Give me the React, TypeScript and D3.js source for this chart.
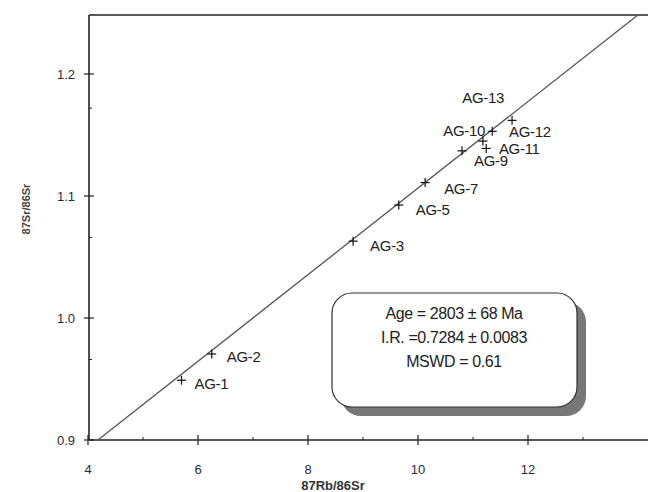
import * as d3 from "d3";

// sample names, measured ratios
const samples = ["AG-1", "AG-2", "AG-3", "AG-5", "AG-7", "AG-9", "AG-11", "AG-10", "AG-13", "AG-12"];
const rbSr = [5.7, 6.25, 8.82, 9.65, 10.13, 10.8, 11.18, 11.35, 11.24, 11.71];
const srSr = [0.949, 0.9705, 1.063, 1.0926, 1.111, 1.137, 1.145, 1.153, 1.139, 1.162];

// isochron fit as drawn
const slope = 0.03548;
const intercept = 0.7517;

const xTicks = [4, 6, 8, 10, 12];
const xMinor = [5, 7, 9, 11, 13];
const yTicks = [0.9, 1.0, 1.1, 1.2];
const yMinor = [0.966, 1.066, 1.172];

const resultLines = ["Age = 2803 ± 68 Ma", "I.R. =0.7284 ± 0.0083", "MSWD = 0.61"];

// label placement relative to each cross (px)
const labelOffsets: [number, number][] = [
  [13, 9], [15, 8], [17, 10], [17, 10], [19, 11],
  [12, 15], [16, 13], [-49, 5], [-24, -45], [-3, 17],
];

const W = 648;
const H = 492;
const left = 89;
const top = 15;
const bottom = 440;

export default function App() {
  const x = d3.scaleLinear().domain([4, 12]).range([88, 528]);
  const y = d3.scaleLinear().domain([0.9, 1.2]).range([bottom, 74]);

  const yTop = y.invert(top);
  const x0 = (0.9 - intercept) / slope;
  const x1 = (yTop - intercept) / slope;
  const line = d3.line<number>()
    .x((d) => x(d))
    .y((d) => y(intercept + slope * d));

  const font = "Liberation Sans, Arial, sans-serif";

  return (
    <svg
      width={W}
      height={H}
      style={{ position: "absolute", left: 0, top: 0, background: "#fff" }}
      fontFamily={font}
    >
      {/* frame */}
      <line x1={left} y1={top} x2={W} y2={top} stroke="#222" strokeWidth={1.6} />
      <line x1={left} y1={top} x2={left} y2={bottom} stroke="#222" strokeWidth={1.6} />
      <line x1={left} y1={bottom} x2={W} y2={bottom} stroke="#222" strokeWidth={1.6} />

      {/* ticks */}
      {xTicks.map((t) => (
        <g key={"xt" + t}>
          <line x1={x(t)} x2={x(t)} y1={bottom - 5} y2={bottom + 5} stroke="#222" strokeWidth={1.2} />
          <text x={x(t)} y={bottom + 34} textAnchor="middle" fontSize={13} fill="#2a2a3a">
            {t}
          </text>
        </g>
      ))}
      {xMinor.map((t) => (
        <line key={"xm" + t} x1={x(t)} x2={x(t)} y1={bottom - 3} y2={bottom} stroke="#222" strokeWidth={1} />
      ))}
      {yTicks.map((t) => (
        <g key={"yt" + t}>
          <line x1={left - 5} x2={left + 5} y1={y(t)} y2={y(t)} stroke="#222" strokeWidth={1.2} />
          <text x={left - 14} y={y(t) + 4.5} textAnchor="end" fontSize={13} fill="#2a2a3a">
            {t.toFixed(1)}
          </text>
        </g>
      ))}
      {yMinor.map((t) => (
        <line key={"ym" + t} x1={left} x2={left + 3} y1={y(t)} y2={y(t)} stroke="#222" strokeWidth={1} />
      ))}

      {/* axis titles */}
      <text x={333} y={490} textAnchor="middle" fontSize={13} fill="#333" fontWeight="bold">
        87Rb/86Sr
      </text>
      <text
        transform={`translate(30,209) rotate(-90)`}
        textAnchor="middle"
        fontSize={11}
        fill="#444"
        fontWeight="bold"
      >
        87Sr/86Sr
      </text>

      {/* isochron */}
      <path d={line([x0, x1]) ?? ""} fill="none" stroke="#555" strokeWidth={1.3} />

      {/* data crosses and labels */}
      {samples.map((s, i) => {
        const cx = x(rbSr[i]);
        const cy = y(srSr[i]);
        const [dx, dy] = labelOffsets[i];
        return (
          <g key={s}>
            <line x1={cx - 4.5} x2={cx + 4.5} y1={cy} y2={cy} stroke="#111" strokeWidth={1.2} />
            <line x1={cx} x2={cx} y1={cy - 4.5} y2={cy + 4.5} stroke="#111" strokeWidth={1.2} />
            <text x={cx + dx} y={cy + dy} fontSize={15} fill="#222" letterSpacing={-0.3}>
              {s}
            </text>
          </g>
        );
      })}

      {/* results box */}
      <rect x={341} y={302} width={245} height={114} rx={20} fill="#777" />
      <rect x={332} y={293} width={245} height={114} rx={20} fill="#fff" stroke="#333" strokeWidth={1.2} />
      {resultLines.map((t, i) => (
        <text key={t} x={454} y={319 + i * 24} textAnchor="middle" fontSize={16} fill="#222" letterSpacing={-0.4}>
          {t}
        </text>
      ))}
    </svg>
  );
}
